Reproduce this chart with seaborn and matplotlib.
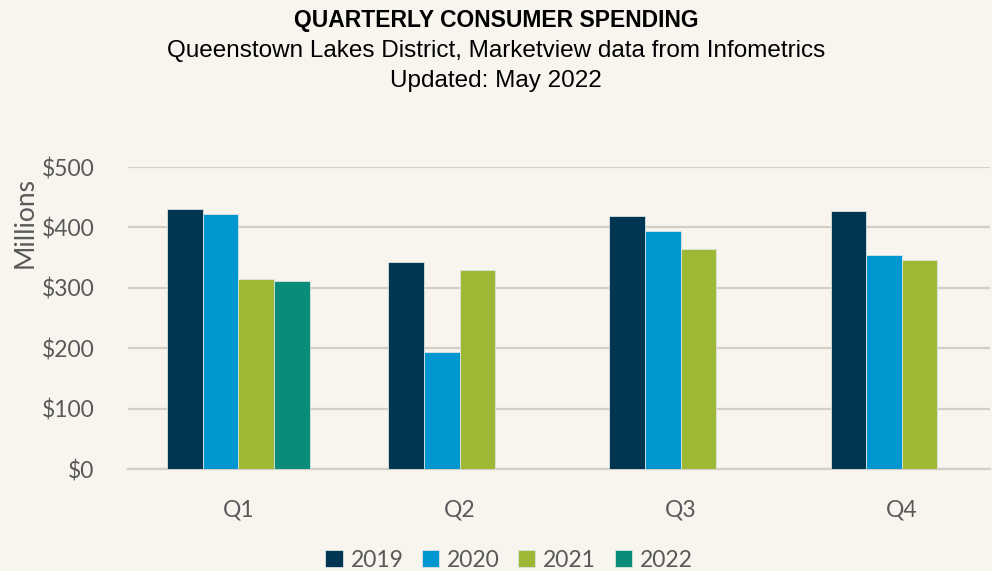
import matplotlib
matplotlib.use("Agg")
import matplotlib.pyplot as plt
import seaborn as sns
import pandas as pd
import numpy as np

quarters = ["Q1", "Q2", "Q3", "Q4"]
years = ["2019", "2020", "2021", "2022"]
v2019 = [431, 343, 419, 427]
v2020 = [423, 194, 394, 354]
v2021 = [315, 330, 365, 346]
v2022 = [311, np.nan, np.nan, np.nan]
colors = ["#003652", "#0096CF", "#9DB835", "#0A8C7A"]

rows = []
for y, vals in zip(years, [v2019, v2020, v2021, v2022]):
    for q, v in zip(quarters, vals):
        rows.append({"Quarter": q, "Year": y, "Value": v})
df = pd.DataFrame(rows)

bg = "#F7F5EE"
sns.set_theme(style="white")
plt.rcParams["font.family"] = ["Lato", "DejaVu Sans"]

fig = plt.figure(figsize=(9.92, 5.71), dpi=100, facecolor=bg)
ax = fig.add_axes([0.129, 0.1786, 0.869, 0.5289])
ax.set_facecolor(bg)

sns.barplot(data=df, x="Quarter", y="Value", hue="Year", order=quarters,
            hue_order=years, palette=colors, width=0.643, dodge=True,
            saturation=1, ax=ax, legend=True, zorder=3,
            edgecolor="#DCE3E3", linewidth=0.6)

ax.set_ylim(0, 500)
ax.set_xlim(-0.5, 3.4)
ax.set_yticks([0, 100, 200, 300, 400, 500])
ax.set_yticklabels(["$0", "$100", "$200", "$300", "$400", "$500"])
ax.yaxis.grid(True, color="#D3CFC7", linewidth=1.6, zorder=0)
ax.set_axisbelow(True)
for s in ["top", "right", "left"]:
    ax.spines[s].set_visible(False)
ax.spines["bottom"].set_color("#D3CFC7")
ax.spines["bottom"].set_linewidth(1.6)
ax.tick_params(axis="both", length=0, labelsize=16.5, colors="#595959")
ax.tick_params(axis="y", pad=24)
ax.tick_params(axis="x", pad=22)
ax.set_xlabel("")
ax.set_ylabel("")
fig.text(25 / 992, 1 - 222 / 571, "Millions", rotation=90, ha="center", va="center",
         fontsize=19, color="#595959")

leg = ax.legend(loc="center", bbox_to_anchor=((509 - 128) / 862, (469 - 560) / 302), ncol=4,
                frameon=False, fontsize=16.5, handlelength=0.75, handleheight=0.75,
                handletextpad=0.35, columnspacing=0.8, borderaxespad=0)
for t in leg.get_texts():
    t.set_color("#595959")

tf = ["Liberation Sans", "DejaVu Sans"]
fig.text(0.5, 1 - 20 / 571, "QUARTERLY CONSUMER SPENDING", ha="center", va="center",
         fontsize=16.5, fontweight="bold", family=tf, color="black")
fig.text(0.5, 1 - 51 / 571, "Queenstown Lakes District, Marketview data from Infometrics",
         ha="center", va="center", fontsize=17.5, family=tf, color="black")
fig.text(0.5, 1 - 81 / 571, "Updated: May 2022", ha="center", va="center",
         fontsize=17.5, family=tf, color="black")

fig.savefig("out.png", dpi=100, facecolor=bg)
